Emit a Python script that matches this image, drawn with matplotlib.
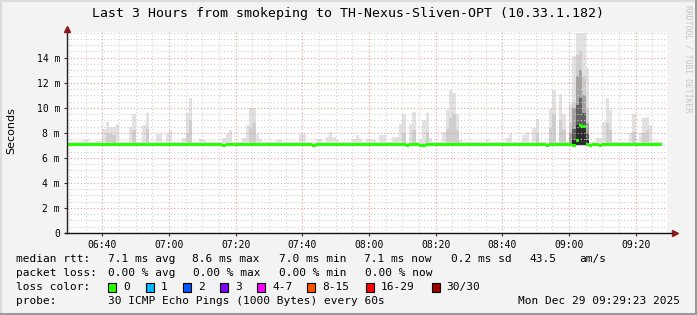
import numpy as np
import matplotlib
matplotlib.use("Agg")
import matplotlib.pyplot as plt
import matplotlib.dates as mdates
from matplotlib.lines import Line2D
from matplotlib.patches import Rectangle
from matplotlib.ticker import MultipleLocator, FuncFormatter


# One bin per minute, the first bin starts at 06:29 (graph window 06:29:23 - 09:29:23).
BIN_START = np.datetime64("2025-12-29T06:29")
BIN_COUNT = 179
VIEW_START = np.datetime64("2025-12-29T06:29:23")
VIEW_END = np.datetime64("2025-12-29T09:29:23")

# Smoke values in ms. Most minutes sit at the base values, the lists hold the bins that stick out.
BASE_TOP = 7.3
BASE_MID = 7.2
BASE_BOTTOM = 6.95
BASE_MEDIAN = 7.08

peak_minutes = [5, 6, 9, 10, 11, 12, 13, 14, 15, 19, 20, 23, 24, 27, 28, 30, 31, 35, 36, 37,
                40, 41, 47, 48, 49, 53, 54, 55, 56, 57, 58, 63, 64, 70, 71, 75, 76, 78, 79, 80,
                81, 86, 87, 88, 90, 91, 92, 94, 95, 98, 99, 100, 101, 103, 104, 106, 107, 108, 109, 113,
                114, 115, 116, 117, 118, 126, 132, 133, 137, 138, 140, 141, 145, 146, 148, 149, 151, 152, 153, 154,
                155, 156, 159, 160, 161, 162, 163, 169, 170, 172, 173, 174, 175]
peak_tops = [7.45, 7.45, 7.35, 7.35, 8.3, 8.9, 8.5, 8.5, 8.7, 8.5, 9.5, 8.6, 9.6, 7.9, 7.9, 7.9, 8.2, 7.6, 9.6, 10.8,
             7.5, 7.45, 7.6, 7.9, 8.2, 7.6, 8.6, 10.0, 10.0, 7.9, 7.5, 7.4, 7.4, 7.9, 7.9, 7.5, 7.5, 7.7, 8.1, 7.7,
             7.45, 7.5, 7.8, 7.5, 7.5, 7.5, 7.4, 7.8, 7.8, 7.7, 7.7, 8.7, 9.5, 8.7, 9.7, 7.5, 9.0, 9.6, 7.6, 8.1,
             9.8, 11.4, 11.2, 9.5, 7.4, 7.4, 7.6, 7.9, 7.8, 8.1, 8.4, 9.1, 9.9, 11.4, 11.1, 9.5, 10.3, 14.1, 16.0, 16.0,
             16.0, 13.2, 7.6, 7.6, 8.9, 10.8, 9.8, 8.0, 9.5, 8.0, 9.2, 9.3, 8.6]

mid_minutes = [12, 13, 14, 20, 24, 36, 37, 55, 56, 101, 104, 108, 114, 115, 116, 117, 141, 145, 146, 148,
               149, 151, 152, 153, 154, 155, 156, 162, 163, 170, 173, 174]
mid_tops = [8.0, 7.9, 7.8, 8.2, 8.3, 8.0, 9.0, 8.5, 8.8, 8.0, 8.2, 8.1, 8.3, 9.2, 9.5, 8.2, 8.0, 8.4, 9.5, 9.0,
            8.2, 8.8, 10.5, 14.2, 14.5, 12.5, 10.0, 8.8, 8.2, 8.1, 8.0, 8.2]

# darker smoke layers, only around the 09:00 burst
spike_minutes = [151, 152, 153, 154, 155, 156]
spike_gray_tops = [8.0, 10.0, 12.5, 13.0, 11.0, 8.8]
spike_dark_tops = [7.2, 8.3, 10.2, 10.8, 9.6, 8.0]
spike_core_tops = [7.2, 7.4, 8.6, 8.7, 8.5, 7.4]

median_minutes = [47, 74, 102, 106, 107, 144, 152, 153, 154, 155, 157, 160]
median_values = [6.98, 6.98, 6.98, 6.98, 6.98, 6.98, 6.98, 7.4, 8.6, 8.5, 6.98, 6.98]

y_ticks = [0, 2, 4, 6, 8, 10, 12, 14]

legend_rows = [
    ["median rtt:", "7.1 ms avg", "8.6 ms max", "7.0 ms min", "7.1 ms now", "0.2 ms sd", "43.5", "am/s"],
    ["packet loss:", "0.00 % avg", "0.00 % max", "0.00 % min", "0.00 % now"],
]
legend_row_x = [
    [16, 107.6, 192.4, 278.7, 364.4, 451, 529.8, 579],
    [16, 107.6, 192.9, 279, 365],
]
loss_labels = ["0", "1", "2", "3", "4-7", "8-15", "16-29", "30/30"]
loss_colors = ["#26ff00", "#00b8ff", "#0059ff", "#7e00ff", "#ff00ff", "#ff5500", "#ff0000", "#a00000"]
loss_box_x = [108.3, 145.7, 182.7, 220, 257.3, 307.3, 365.7, 431.7]

TITLE = "Last 3 Hours from smokeping to TH-Nexus-Sliven-OPT (10.33.1.182)"
PROBE = "30 ICMP Echo Pings (1000 Bytes) every 60s"
STAMP = "Mon Dec 29 09:29:23 2025"

W, H = 697, 315
MONO = "DejaVu Sans Mono"


def fill_series(base, minutes, values):
    series = np.full(BIN_COUNT, base)
    series[minutes] = values
    return series


def px(x, y):
    # pixel position (from top left) to figure fraction
    return x / W, 1 - y / H


def step_band(axis, lower, upper, color, zorder):
    # rrdtool areas are flat per step, so draw them as one stepped polygon (no seams between bins)
    axis.fill_between(edges, np.append(lower, lower[-1]), np.append(upper, upper[-1]),
                      step="post", color=color, linewidth=0, zorder=zorder)


edges = BIN_START + np.arange(BIN_COUNT + 1).astype("timedelta64[m]")
smoke_top = fill_series(BASE_TOP, peak_minutes, peak_tops)
smoke_mid = fill_series(BASE_MID, mid_minutes, mid_tops)
median_rtt = fill_series(BASE_MEDIAN, median_minutes, median_values)
smoke_floor = np.full(BIN_COUNT, BASE_BOTTOM)
spike_floor = np.full(BIN_COUNT, 7.0)
spike_gray = fill_series(7.0, spike_minutes, spike_gray_tops)
spike_dark = fill_series(7.0, spike_minutes, spike_dark_tops)
spike_core = fill_series(7.0, spike_minutes, spike_core_tops)

fig = plt.figure(figsize=(W / 100, H / 100), dpi=100, facecolor="#f3f3f3")
ax = fig.add_axes([67 / W, 82 / H, 600 / W, 201 / H])
ax.set_facecolor("white")

step_band(ax, smoke_floor, smoke_top, "#e2e2e2", 1)
step_band(ax, smoke_floor, smoke_mid, "#cecece", 1.1)
step_band(ax, spike_floor, spike_gray, "#a2a2a2", 1.2)
step_band(ax, spike_floor, spike_dark, "#606060", 1.3)
step_band(ax, spike_floor, spike_core, "#2c2c2c", 1.4)

# smokeping draws the median as a thin stacked area, one short dash per minute
step_band(ax, median_rtt - 0.12, median_rtt + 0.12, loss_colors[0], 3)

ax.set_xlim(VIEW_START, VIEW_END)
ax.set_ylim(0, 16.05)

ax.xaxis.set_major_locator(mdates.MinuteLocator(byminute=[0, 20, 40]))
ax.xaxis.set_minor_locator(mdates.MinuteLocator(byminute=range(0, 60, 5)))
ax.xaxis.set_major_formatter(mdates.DateFormatter("%H:%M"))
ax.set_yticks(y_ticks)
ax.yaxis.set_minor_locator(MultipleLocator(0.5))
ax.yaxis.set_major_formatter(FuncFormatter(lambda v, pos: "0" if v == 0 else f"{v:g} m"))

ax.grid(which="minor", color="#cfcfcf", linestyle=(0, (1, 2)), linewidth=0.8, zorder=2)
ax.grid(which="major", color="#e89a9a", linestyle=(0, (1, 2)), linewidth=0.8, zorder=2)
ax.set_axisbelow(False)

ax.tick_params(which="major", length=2, width=0.8, pad=3, labelsize=7, color="#333333")
ax.tick_params(which="minor", length=0)
for label in ax.get_xticklabels() + ax.get_yticklabels():
    label.set_family(MONO)

for side in ["top", "right", "left", "bottom"]:
    ax.spines[side].set_visible(False)

# axis lines with the small rrdtool arrow heads
ax.plot([0, 0], [0, 1.02], color="#222222", lw=1, transform=ax.transAxes, clip_on=False, zorder=4)
ax.plot([-2 / 600, 1.0 + 5 / 600], [0, 0], color="#111111", lw=1, transform=ax.transAxes,
        clip_on=False, zorder=4)
ax.plot([1.0 + 8 / 600], [0], marker=">", markersize=5, color="#8b1a1a", transform=ax.transAxes,
        clip_on=False, zorder=5)
ax.plot([0], [1.0 + 3 / 201], marker="^", markersize=5, color="#8b1a1a", transform=ax.transAxes,
        clip_on=False, zorder=5)

fig.text(*px(348, 13.3), TITLE, ha="center", va="center", family=MONO, fontsize=9.5)
fig.text(*px(11, 131), "Seconds", ha="center", va="center", rotation=90, family="DejaVu Sans",
         fontsize=8)
fig.text(*px(688, 59), "RRDTOOL / TOBI OETIKER", ha="center", va="center", rotation=270,
         family=MONO, fontsize=5.9, color="#c4c4c4")

row_y = [259.3, 273.3]
for y, texts, xs in zip(row_y, legend_rows, legend_row_x):
    for text, x in zip(texts, xs):
        fig.text(*px(x, y), text, ha="left", va="center", family=MONO, fontsize=8)

fig.text(*px(16, 287.3), "loss color:", ha="left", va="center", family=MONO, fontsize=8)
for label, color, x in zip(loss_labels, loss_colors, loss_box_x):
    fig.add_artist(Rectangle(px(x, 291.5), 8 / W, 9 / H, facecolor=color, edgecolor="black",
                             linewidth=0.8, transform=fig.transFigure))
    fig.text(*px(x + 15, 287.3), label, ha="left", va="center", family=MONO, fontsize=8)

fig.text(*px(16, 301), "probe:", ha="left", va="center", family=MONO, fontsize=8)
fig.text(*px(107.6, 301), PROBE, ha="left", va="center", family=MONO, fontsize=8)
fig.text(*px(680, 301), STAMP, ha="right", va="center", family=MONO, fontsize=8)

# image frame: light top/left, darker shade right/bottom
fig.add_artist(Line2D([0, 1], [1 - 0.5 / H] * 2, color="#dcdcdc", lw=1.5, transform=fig.transFigure))
fig.add_artist(Line2D([0.5 / W] * 2, [0, 1], color="#dcdcdc", lw=1.5, transform=fig.transFigure))
fig.add_artist(Line2D([1 - 1 / W] * 2, [0, 1], color="#9a9a9a", lw=1.5, transform=fig.transFigure))
fig.add_artist(Line2D([0, 1], [1 / H] * 2, color="#9a9a9a", lw=1.5, transform=fig.transFigure))

fig.savefig("out.png", dpi=100, facecolor=fig.get_facecolor())
